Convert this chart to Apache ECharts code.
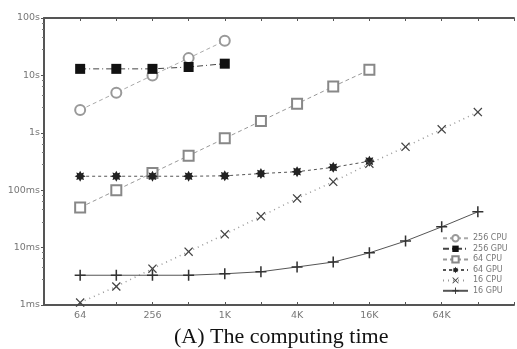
<!DOCTYPE html>
<html>
<head>
<meta charset="utf-8">
<script src="https://cdn.jsdelivr.net/npm/echarts@6/dist/echarts.min.js"></script>
<style>
  html, body { margin: 0; padding: 0; background: #fff; }
  #chart { width: 517px; height: 349px; }
</style>
</head>
<body>
<div id="chart"></div>
<script>
// problem sizes (x) and computing time in seconds (y)
var sizes = [64, 128, 256, 512, 1024, 2048, 4096, 8192, 16384, 32768, 65536, 131072]
var xLabelsShown = [64, 256, 1024, 4096, 16384, 65536]

var cpu256 = [2.5, 5, 10, 20, 40]
var gpu256 = [13, 13, 13, 14, 16]
var cpu64 = [0.05, 0.1, 0.2, 0.4, 0.8, 1.6, 3.2, 6.4, 12.5]
var gpu64 = [0.175, 0.175, 0.175, 0.175, 0.178, 0.195, 0.21, 0.25, 0.32]
var cpu16 = [0.0011, 0.0021, 0.0043, 0.0085, 0.017, 0.035, 0.072, 0.14, 0.29, 0.57, 1.15, 2.3]
var gpu16 = [0.0033, 0.0033, 0.0033, 0.0033, 0.0035, 0.0038, 0.0046, 0.0056, 0.0081, 0.013, 0.023, 0.042]

var seriesNames = ['256 CPU', '256 GPU', '64 CPU', '64 GPU', '16 CPU', '16 GPU']

var crossPath = 'path://M0,1L1,0L5,4L9,0L10,1L6,5L10,9L9,10L5,6L1,10L0,9L4,5Z'
var plusPath = 'path://M4.3,0H5.7V4.3H10V5.7H5.7V10H4.3V5.7H0V4.3H4.3Z'
var starPath = 'path://M5,0L6.2,2.2L8.5,1.5L7.8,3.8L10,5L7.8,6.2L8.5,8.5L6.2,7.8L5,10L3.8,7.8L1.5,8.5L2.2,6.2L0,5L2.2,3.8L1.5,1.5L3.8,2.2Z'

function pairs (vals) {
  var out = []
  for (var i = 0; i < vals.length; i++) {
    out.push([sizes[i], vals[i]])
  }
  return out
}

function fmtSize (v) {
  var n = Math.round(v)
  if (xLabelsShown.indexOf(n) < 0) return ''
  if (n >= 1024) return (n / 1024) + 'K'
  return String(n)
}

function fmtTime (v) {
  if (v < 0.9) return Math.round(v * 1000) + 'ms'
  return Math.round(v) + 's'
}

var axisColor = '#555'
var labelStyle = { color: '#777', fontSize: 9.5, fontFamily: 'DejaVu Sans' }

var chart = echarts.init(document.getElementById('chart'))

var option = {
  animation: false,
  backgroundColor: '#fff',
  title: {
    text: '(A) The computing time',
    left: 169,
    top: 321,
    textStyle: { fontFamily: 'Liberation Serif', fontSize: 22, fontWeight: 'normal', color: '#111' }
  },
  grid: { left: 44, top: 18, right: 0, bottom: 44 },
  legend: {
    orient: 'vertical',
    left: 437,
    top: 229,
    itemWidth: 25,
    itemHeight: 8,
    itemGap: 2.4,
    textStyle: { fontSize: 8, color: '#777', fontFamily: 'DejaVu Sans' },
    data: seriesNames
  },
  xAxis: [{
    type: 'log',
    logBase: 2,
    min: 32,
    max: 262144,
    interval: 1,
    axisLine: { lineStyle: { color: axisColor, width: 2 } },
    axisTick: { inside: true, length: 3, lineStyle: { color: axisColor } },
    axisLabel: Object.assign({ formatter: fmtSize, margin: 6 }, labelStyle),
    splitLine: { show: false }
  }, {
    type: 'log',
    logBase: 2,
    min: 32,
    max: 262144,
    interval: 1,
    position: 'top',
    axisLine: { lineStyle: { color: axisColor, width: 2 } },
    axisTick: { inside: true, length: 3, lineStyle: { color: axisColor } },
    axisLabel: { show: false },
    splitLine: { show: false }
  }],
  yAxis: {
    type: 'log',
    logBase: 10,
    min: 0.001,
    max: 100,
    axisLine: { lineStyle: { color: axisColor, width: 2 } },
    axisTick: { inside: false, length: 3, lineStyle: { color: axisColor } },
    minorTick: { show: true, splitNumber: 5, length: 2, lineStyle: { color: '#777' } },
    axisLabel: Object.assign({ formatter: fmtTime, margin: 4 }, labelStyle),
    splitLine: { show: false }
  },
  series: [
    {
      name: '256 CPU', type: 'line', data: pairs(cpu256),
      symbol: 'emptyCircle', symbolSize: 10,
      itemStyle: { color: '#999', borderWidth: 1 },
      lineStyle: { color: '#aaa', width: 1, type: [4, 3] }
    },
    {
      name: '256 GPU', type: 'line', data: pairs(gpu256),
      symbol: 'rect', symbolSize: 10,
      itemStyle: { color: '#111' },
      lineStyle: { color: '#444', width: 1, type: [6, 3, 1, 3] }
    },
    {
      name: '64 CPU', type: 'line', data: pairs(cpu64),
      symbol: 'emptyRect', symbolSize: 10,
      itemStyle: { color: '#888', borderWidth: 1 },
      lineStyle: { color: '#999', width: 1, type: [4, 3] }
    },
    {
      name: '64 GPU', type: 'line', data: pairs(gpu64),
      symbol: starPath, symbolSize: 11,
      itemStyle: { color: '#222' },
      lineStyle: { color: '#555', width: 1, type: [3, 3] }
    },
    {
      name: '16 CPU', type: 'line', data: pairs(cpu16),
      symbol: crossPath, symbolSize: 9,
      itemStyle: { color: '#444' },
      lineStyle: { color: '#999', width: 1.5, type: [1, 4] }
    },
    {
      name: '16 GPU', type: 'line', data: pairs(gpu16),
      symbol: plusPath, symbolSize: 11,
      itemStyle: { color: '#333' },
      lineStyle: { color: '#555', width: 1, type: 'solid' }
    }
  ]
}

chart.setOption(option)
</script>
</body>
</html>
